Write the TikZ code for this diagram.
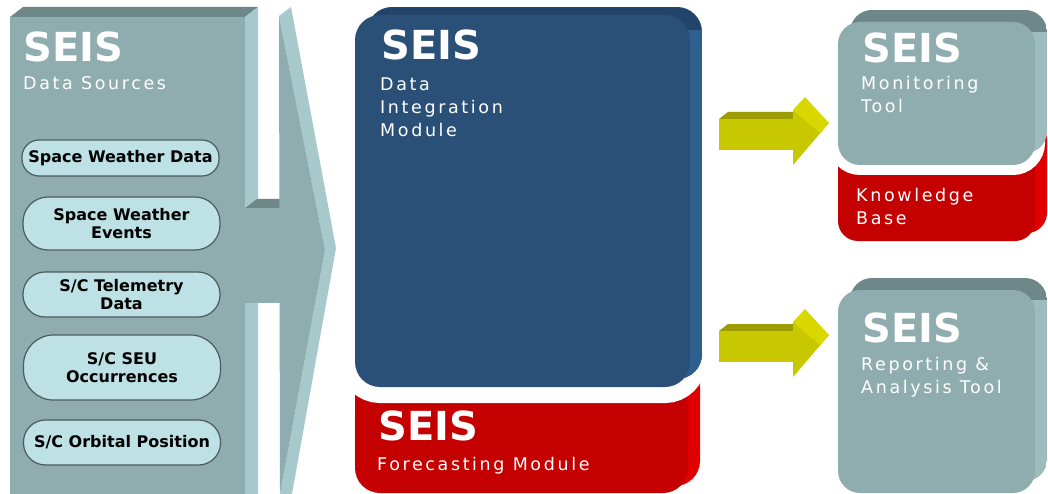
\documentclass[tikz,border=0pt]{standalone}
\usepackage{fontspec}
\setmainfont{DejaVu Sans}
\newfontfamily\subfont[LetterSpace=15]{DejaVu Sans}
\definecolor{gfront}{HTML}{8FACAF}
\definecolor{gtop}{HTML}{6E8789}
\definecolor{gside}{HTML}{A8C9CC}
\definecolor{rgside}{HTML}{9DBCBF}
\definecolor{pillc}{HTML}{BDE1E4}
\definecolor{pilld}{HTML}{4E5B5C}
\definecolor{bfront}{HTML}{2A5078}
\definecolor{btop}{HTML}{22446B}
\definecolor{bside}{HTML}{2F5F8F}
\definecolor{rfront}{HTML}{C40000}
\definecolor{rside}{HTML}{E00000}
\definecolor{yfront}{HTML}{C8C800}
\definecolor{ytop}{HTML}{9C9C00}
\definecolor{ylight}{HTML}{D8D800}
\begin{document}
\begin{tikzpicture}[x=1pt,y=-1pt,
  seistitle/.style={anchor=base west, inner sep=0pt, text=white, font=\bfseries\fontsize{40}{40}\selectfont},
  seissub/.style={anchor=base west, inner sep=0pt, text=white, align=left, font=\subfont\fontsize{17.5}{23}\selectfont},
  pillbox/.style={draw=pilld, line width=1.2pt, fill=pillc, minimum width=197pt, inner sep=0pt, align=center, text=black, font=\bfseries\fontsize{16}{18.5}\selectfont}]
\useasboundingbox (0,0) rectangle (1048,494);
\fill[white] (0,0) rectangle (1048,494);

% ---- middle: forecasting (red) + data integration (blue)
\fill[rside, rounded corners=25pt] (367,340) rectangle (700,486);
\fill[rfront, rounded corners=25pt] (355,340) rectangle (688,493);
\draw[white, line width=32pt, rounded corners=25pt] (355,15) rectangle (690,387);
\begin{scope}
  \clip[rounded corners=25pt] (367,7) rectangle (702,379);
  \fill[btop] (367,7) rectangle (702,379);
  \fill[bside] (680,30) rectangle (702,379);
\end{scope}
\fill[bfront, rounded corners=25pt] (355,15) rectangle (690,387);

% ---- left panel: data sources with arrow
\fill[gtop] (10,17) -- (23,7) -- (258,7) -- (245,17) -- cycle;
\fill[gside] (245,17) -- (258,7) -- (258,494) -- (245,494) -- cycle;
\fill[gtop] (245,208) -- (257,199) -- (282,199) -- (282,208) -- cycle;
\fill[gside] (279,16) -- (291,7) -- (336,248) -- (292,494) -- (280,494) -- (325,250) -- cycle;
\fill[gfront] (10,17) rectangle (245,494);
\fill[gfront] (244,208) rectangle (283,303);
\fill[gfront] (279,16) -- (325,250) -- (280,494) -- cycle;

% ---- upper right: monitoring tool + knowledge base
\fill[rside, rounded corners=20pt] (850,120) rectangle (1047,233);
\fill[rfront, rounded corners=20pt] (838,120) rectangle (1035,241);
\draw[white, line width=20pt, rounded corners=22pt] (838,22) rectangle (1035,165);
\begin{scope}
  \clip[rounded corners=22pt] (850,10) rectangle (1047,153);
  \fill[gtop] (850,10) rectangle (1047,153);
  \fill[rgside] (1025,32) rectangle (1047,153);
\end{scope}
\fill[gfront, rounded corners=22pt] (838,22) rectangle (1035,165);

% ---- lower right: reporting & analysis tool
\begin{scope}
  \clip[rounded corners=22pt] (850,278) rectangle (1047,481);
  \fill[gtop] (850,278) rectangle (1047,481);
  \fill[rgside] (1025,300) rectangle (1047,481);
\end{scope}
\fill[gfront, rounded corners=22pt] (838,290) rectangle (1035,493);

% ---- yellow arrows
\foreach \dy in {0,212}{
  \begin{scope}[shift={(0,\dy)}]
    \fill[ytop] (719,119) -- (728,112) -- (793,112) -- (793,119) -- cycle;
    \fill[yfront] (719,119) rectangle (793.5,150);
    \fill[yfront] (793,110) -- (829,123) -- (793,165) -- cycle;
    \fill[ylight] (793,110) -- (805,97) -- (829,123) -- (820,133) -- cycle;
  \end{scope}
}

% ---- texts (multi-line nodes: base = baseline of last line)
\node[seistitle] (t1) at (23,62) {SEIS};
\node[seissub] (s1) at (23,90) {Data Sources};
\node[seistitle] (t2) at (381,60) {SEIS};
\node[seissub] (s2) at (380,137) {Data\\Integration\\Module};
\node[seistitle] (t3) at (378,440) {SEIS};
\node[seissub] (s3) at (377,470) {Forecasting Module};
\node[seistitle] (t4) at (862,63) {SEIS};
\node[seissub] (s4) at (861,113) {Monitoring\\Tool};
\node[seissub] (s5) at (856,225) {Knowledge\\Base};
\node[seistitle] (t5) at (862,342) {SEIS};
\node[seissub] (s6) at (861,393) {Reporting \&\\Analysis Tool};

% ---- pills
\node[pillbox, minimum height=36pt, rounded corners=17pt] (p1) at (120.5,158) {Space Weather Data};
\node[pillbox, minimum height=53pt, rounded corners=25pt] (p2) at (121.5,223.5) {Space Weather\\Events};
\node[pillbox, minimum height=45pt, rounded corners=22pt] (p3) at (121.5,294.5) {S/C Telemetry\\Data};
\node[pillbox, minimum height=65pt, rounded corners=30pt] (p4) at (122,367.5) {S/C SEU\\Occurrences};
\node[pillbox, minimum height=45pt, rounded corners=22pt] (p5) at (122,442.5) {S/C Orbital Position};
\end{tikzpicture}
\end{document}
